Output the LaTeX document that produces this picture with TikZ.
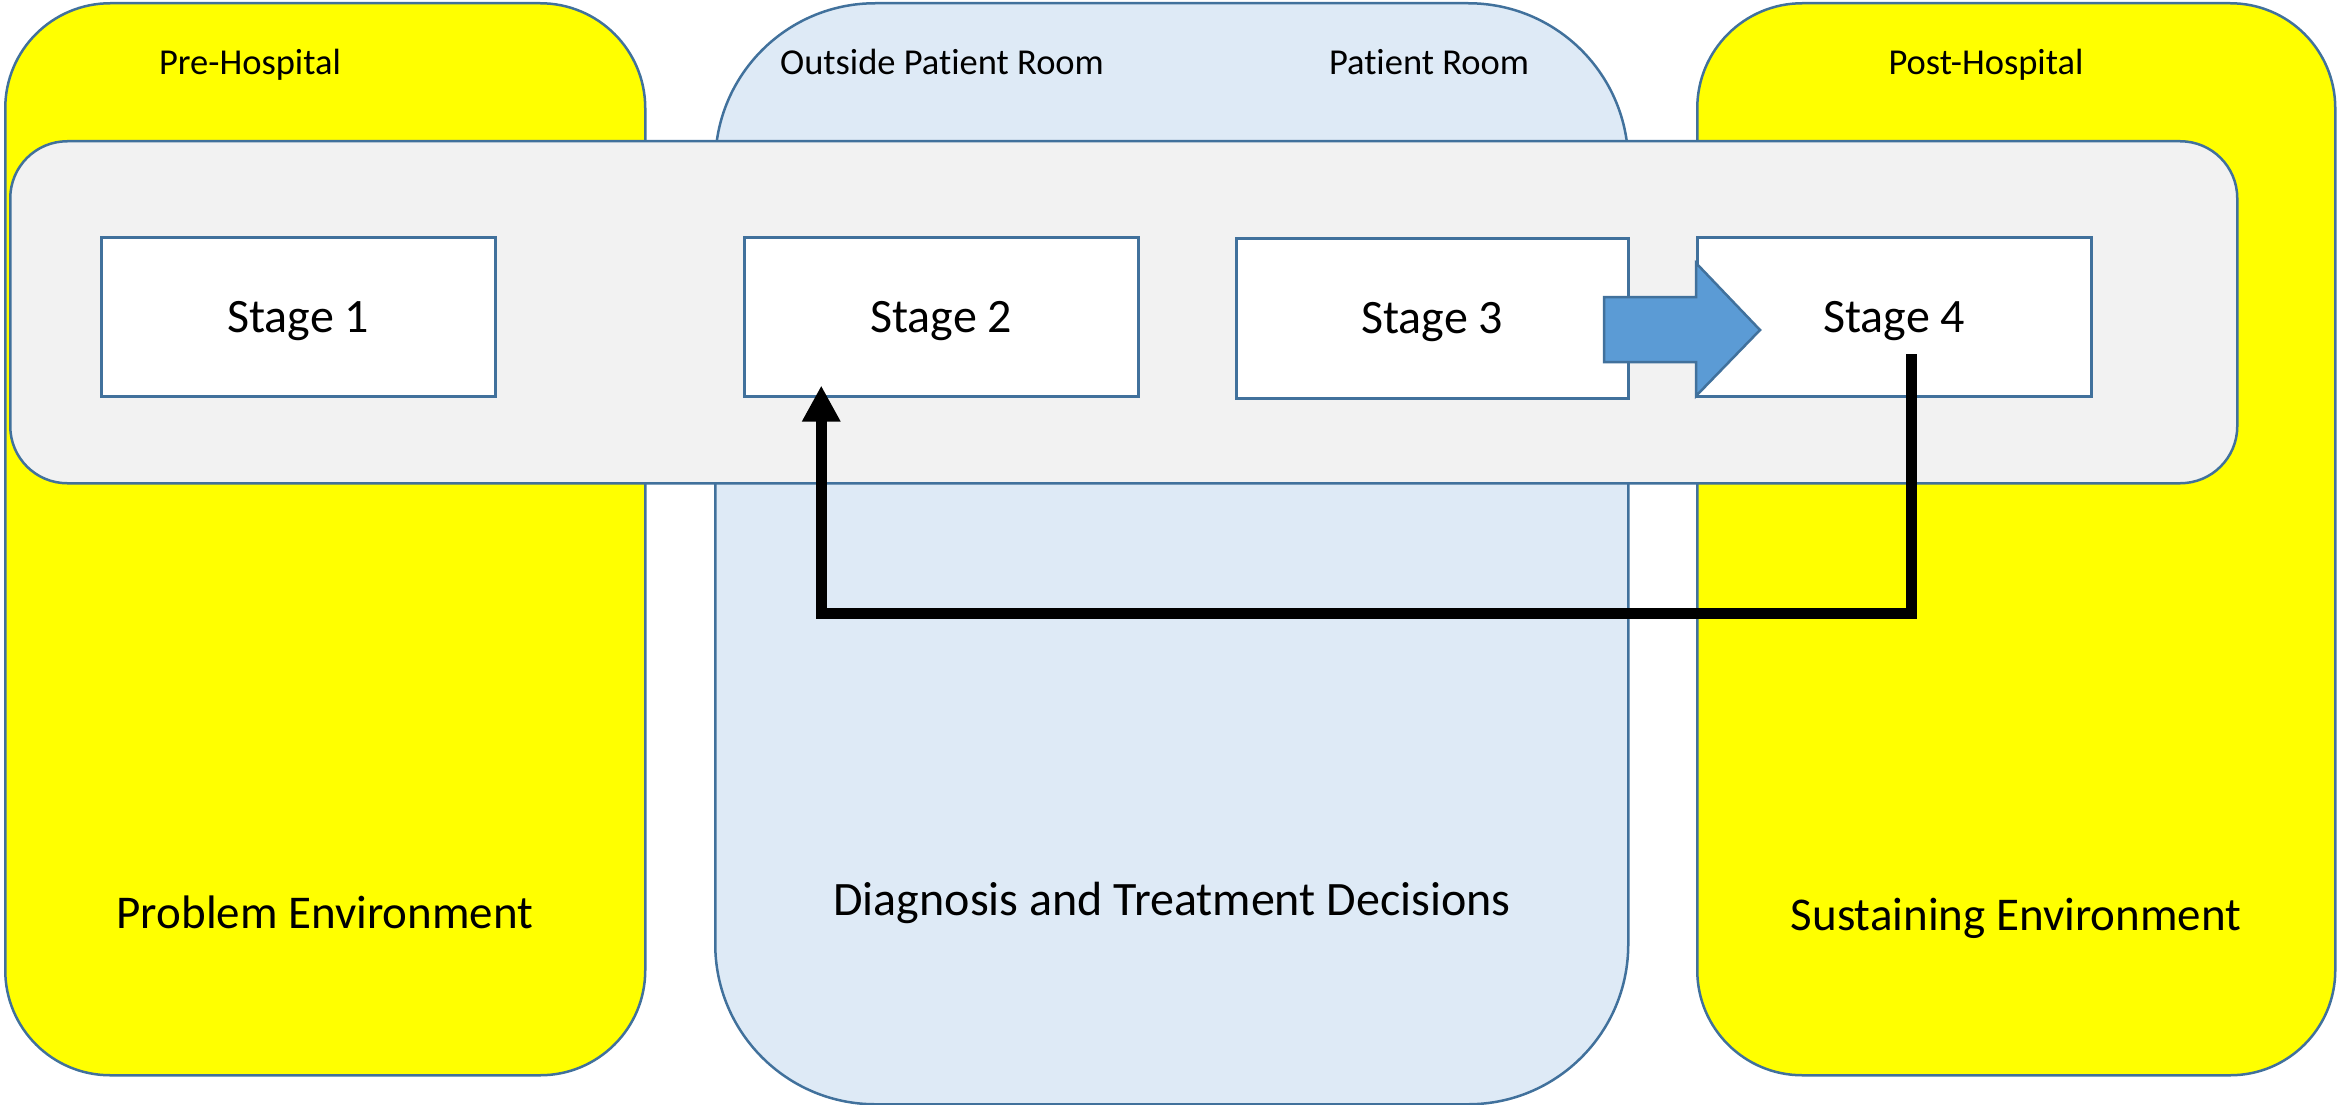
\documentclass[tikz,border=0pt]{standalone}
\usepackage{fontspec}
\setmainfont{Carlito}[Ligatures=NoCommon]
\usetikzlibrary{arrows.meta}

\definecolor{edgeblue}{HTML}{41719C}
\definecolor{arrowblue}{HTML}{5B9BD5}
\definecolor{roomblue}{HTML}{DEEAF6}
\definecolor{bandgray}{HTML}{F2F2F2}
\definecolor{envyellow}{HTML}{FFFF00}

\tikzset{
  panel/.style={draw=edgeblue, line width=2.5pt, inner sep=0pt, anchor=north west},
  stagebox/.style={draw=edgeblue, fill=white, line width=2.5pt, inner sep=0pt,
    anchor=north west, minimum width=394pt, minimum height=159pt,
    text height=31pt, text depth=0pt, font=\fontsize{48}{52}\selectfont},
  toplabel/.style={anchor=base, inner sep=0pt, font=\fontsize{36.5}{40}\selectfont},
  envlabel/.style={anchor=base, inner sep=0pt, font=\fontsize{47}{52}\selectfont},
  feedback/.style={line width=11pt, line join=miter, -{Triangle[width=36pt,length=36pt]}},
  flowarrow/.style={draw=edgeblue, fill=arrowblue, line width=2.5pt, line join=miter}
}

\begin{document}
\begin{tikzpicture}[x=1pt, y=-1pt]
  \useasboundingbox (0,0) rectangle (2339,1105);

  % environment columns
  \node[panel, fill=envyellow, rounded corners=105pt,
        minimum width=640pt, minimum height=1072pt] (pre) at (4,2) {};
  \node[panel, fill=roomblue, rounded corners=160pt,
        minimum width=913pt, minimum height=1101pt] (hosp) at (714,2) {};
  \node[panel, fill=envyellow, rounded corners=105pt,
        minimum width=638pt, minimum height=1072pt] (post) at (1696,2) {};

  % column headings
  \node[toplabel] (lpre)  at (250,75)  {Pre-Hospital};
  \node[toplabel] (lout)  at (942,75)  {Outside Patient Room};
  \node[toplabel] (lroom) at (1429,75) {Patient Room};
  \node[toplabel] (lpost) at (1986,75) {Post-Hospital};

  % column captions
  \node[envlabel] (lprob) at (325,928)  {Problem Environment};
  \node[envlabel, font=\fontsize{48}{52}\selectfont] (ldiag) at (1172,915) {Diagnosis and Treatment Decisions};
  \node[envlabel] (lsust) at (2016,930) {Sustaining Environment};

  % band holding the stages
  \node[panel, fill=bandgray, rounded corners=57pt,
        minimum width=2227pt, minimum height=342pt] (band) at (9,140) {};

  % stages
  \node[stagebox] (stage1) at (100,236)  {Stage 1};
  \node[stagebox] (stage2) at (743,236)  {Stage 2};
  \node[stagebox, minimum width=392pt, minimum height=160pt] (stage3) at (1235,237) {Stage 3};
  \node[stagebox] (stage4) at (1696,236) {Stage 4};

  % block arrow from stage 3 into stage 4
  \draw[flowarrow] (1604,297) -- (1696,297) -- (1696,263) -- (1760,330)
        -- (1696,396) -- (1696,362) -- (1604,362) -- cycle;

  % feedback loop from stage 4 back to stage 2
  \coordinate (back) at (1911,354);
  \coordinate (low)  at (1911,613);
  \coordinate (tgt)  at ([xshift=-120pt,yshift=12pt]stage2.south);
  \draw[feedback] (back) -- (low) -| (tgt);
\end{tikzpicture}
\end{document}
